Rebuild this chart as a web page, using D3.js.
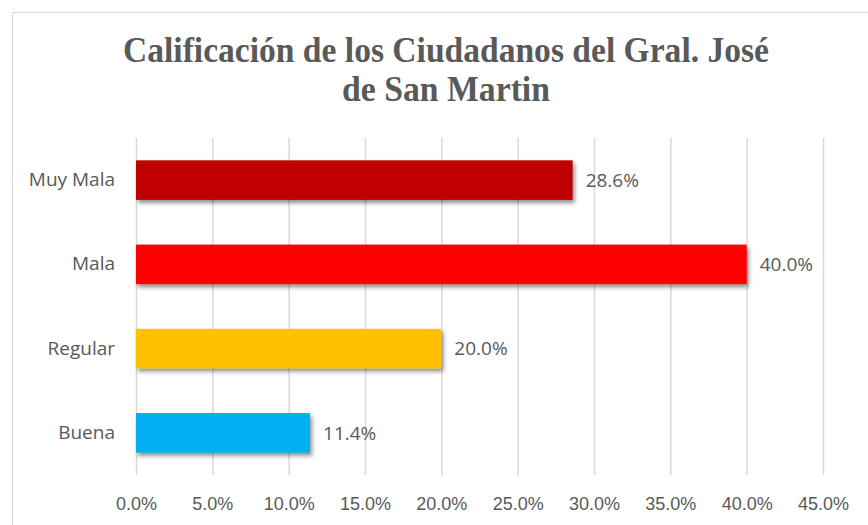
<!DOCTYPE html>
<html>
  <head>
    <meta charset="utf-8">
    <title></title>
    <style>
      body, html{
        margin: 0;
        background: #fff;
      }
      svg text{
        fill: #595959;
      }
    </style>
  </head>
  <body>
    <svg id="chart" width="868" height="525"></svg>
    <script src="https://cdnjs.cloudflare.com/ajax/libs/d3/7.8.5/d3.min.js" charset="utf-8"></script>
    <script>
      var categories = ['Muy Mala', 'Mala', 'Regular', 'Buena']
      var values = [0.286, 0.40, 0.20, 0.114]
      var colors = ['#C00000', '#FF0000', '#FFC000', '#00B0F0']
      var xTicks = [0, 0.05, 0.10, 0.15, 0.20, 0.25, 0.30, 0.35, 0.40, 0.45]
      var titleLines = ['Calificación de los Ciudadanos del Gral. José', 'de San Martin']

      var width = 868, height = 525
      var margin = {top: 138, right: 45, bottom: 50, left: 136}
      var svg = d3.select('#chart')

      // drop shadow for the bars
      var f = svg.append('defs').append('filter').attr('id', 'shadow')
        .attr('x', '-5%').attr('y', '-20%').attr('width', '115%').attr('height', '160%')
      f.append('feDropShadow').attr('dx', 2).attr('dy', 3).attr('stdDeviation', 2)
        .attr('flood-color', '#000').attr('flood-opacity', 0.45)

      // outer chart frame
      svg.append('rect')
        .attr('x', 12.5).attr('y', 12.5).attr('width', width).attr('height', height)
        .attr('fill', 'none').attr('stroke', '#d9d9d9')

      var x = d3.scaleLinear().domain([0, 0.45]).range([margin.left, width - margin.right])
      var y = d3.scaleBand().domain(categories)
        .range([margin.top, height - margin.bottom]).paddingInner(0.53).paddingOuter(0.265)

      // title
      svg.selectAll('.title').data(titleLines).enter().append('text')
        .attr('class', 'title')
        .attr('x', 446).attr('y', function(d, i){ return 62 + i * 39 })
        .attr('text-anchor', 'middle')
        .attr('textLength', function(d, i){ return i == 0 ? 646 : 208 })
        .attr('lengthAdjust', 'spacingAndGlyphs')
        .style('font-family', '"Liberation Serif", "Times New Roman", serif')
        .style('font-weight', 'bold').style('font-size', '36px')
        .text(function(d){ return d })

      // grid
      svg.append('g').selectAll('line').data(xTicks).enter().append('line')
        .attr('x1', function(d){ return x(d) + 0.5 }).attr('x2', function(d){ return x(d) + 0.5 })
        .attr('y1', margin.top).attr('y2', height - margin.bottom)
        .attr('stroke', '#d9d9d9').attr('stroke-width', 1.5)

      // x axis labels
      var xAxis = d3.axisBottom(x).tickValues(xTicks).tickFormat(d3.format('.1%')).tickSize(0).tickPadding(22)
      var gx = svg.append('g').attr('transform', 'translate(0,' + (height - margin.bottom) + ')').call(xAxis)
      gx.select('.domain').remove()
      gx.selectAll('text')
        .style('font-family', '"Liberation Sans", Arial, sans-serif').style('font-size', '18px')
        .style('fill', '#595959')

      // y axis labels
      var yAxis = d3.axisLeft(y).tickSize(0).tickPadding(21)
      var gy = svg.append('g').attr('transform', 'translate(' + margin.left + ',0)').call(yAxis)
      gy.select('.domain').remove()
      gy.selectAll('text')
        .style('font-family', '"Open Sans", sans-serif').style('font-size', '19px')
        .style('fill', '#595959')

      // bars
      svg.append('g').selectAll('rect').data(values).enter().append('rect')
        .attr('x', x(0))
        .attr('y', function(d, i){ return y(categories[i]) })
        .attr('width', function(d){ return x(d) - x(0) })
        .attr('height', y.bandwidth())
        .attr('fill', function(d, i){ return colors[i] })
        .attr('filter', 'url(#shadow)')

      // value labels
      svg.append('g').selectAll('text').data(values).enter().append('text')
        .attr('x', function(d){ return x(d) + 13 })
        .attr('y', function(d, i){ return y(categories[i]) + y.bandwidth() / 2 })
        .attr('dy', '0.35em')
        .style('font-family', '"Open Sans", sans-serif').style('font-size', '19px')
        .text(function(d){ return d3.format('.1%')(d) })
    </script>
  </body>
</html>
